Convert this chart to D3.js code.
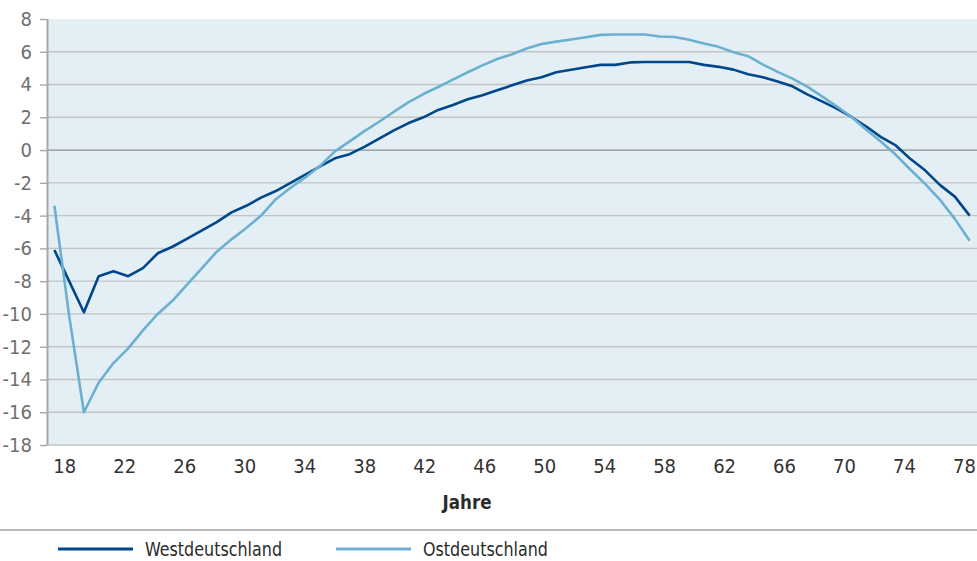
<!DOCTYPE html>
<html>
<head>
<meta charset="utf-8">
<script src="https://cdn.jsdelivr.net/npm/d3@7"></script>
<style>
  body { margin: 0; background: #ffffff; }
  svg text { font-family: "Liberation Sans Narrow", "Arial Narrow", "DejaVu Sans Condensed", sans-serif; }
</style>
</head>
<body>
<svg id="chart" width="977" height="561"></svg>
<script>
// Age categories of the two profiles (one point per year)
const ages = [17, 18, 19, 20, 21, 22, 23, 24, 25, 26, 27, 28, 29, 30, 31, 32, 33, 34, 35, 36,
              37, 38, 39, 40, 41, 42, 43, 44, 45, 46, 47, 48, 49, 50, 51, 52, 53, 54, 55, 56,
              57, 58, 59, 60, 61, 62, 63, 64, 65, 66, 67, 68, 69, 70, 71, 72, 73, 74, 75, 76,
              77, 78, 79];

const west = [-6.1, -8.0, -9.9, -7.7, -7.4, -7.7, -7.2, -6.3, -5.9, -5.4, -4.9, -4.4, -3.8, -3.4,
              -2.9, -2.5, -2.0, -1.5, -1.0, -0.5, -0.25, 0.2, 0.7, 1.2, 1.65, 2.0, 2.45, 2.75, 3.1,
              3.35, 3.65, 3.95, 4.25, 4.45, 4.75, 4.9, 5.05, 5.2, 5.2, 5.35, 5.38, 5.38, 5.38, 5.38,
              5.2, 5.08, 4.91, 4.63, 4.45, 4.18, 3.89, 3.4, 2.97, 2.53, 2.02, 1.44, 0.79, 0.28,
              -0.55, -1.25, -2.14, -2.84, -4.0];

const ost = [-3.4, -10.1, -16.0, -14.2, -13.0, -12.1, -11.0, -10.0, -9.2, -8.2, -7.2, -6.2, -5.45, -4.75,
             -4.0, -3.0, -2.3, -1.67, -0.96, -0.08, 0.53, 1.16, 1.73, 2.34, 2.93, 3.42, 3.85, 4.3, 4.75,
             5.17, 5.56, 5.85, 6.2, 6.47, 6.62, 6.75, 6.89, 7.03, 7.05, 7.05, 7.05, 6.93, 6.9, 6.73,
             6.5, 6.3, 5.97, 5.73, 5.22, 4.77, 4.36, 3.87, 3.28, 2.67, 2.02, 1.24, 0.51, -0.29,
             -1.2, -2.08, -3.04, -4.2, -5.53];

const xTickLabels = [18, 22, 26, 30, 34, 38, 42, 46, 50, 54, 58, 62, 66, 70, 74, 78];
const yTickValues = [8, 6, 4, 2, 0, -2, -4, -6, -8, -10, -12, -14, -16, -18];
const seriesNames = ["Westdeutschland", "Ostdeutschland"];
const seriesColors = ["#00468b", "#6cb0d1"];
const xTitle = "Jahre";

const svg = d3.select("#chart");
const plot = { left: 47, right: 977, top: 19, bottom: 445 };

// Data positions: one slot per age across the plot width
const x = d3.scalePoint().domain(ages).range([plot.left, plot.right]).padding(0.5);
// Label positions along the age axis
const xAxisScale = d3.scaleLinear().domain([18, 78]).range([64.3, 964]);
const y = d3.scaleLinear().domain([-18, 8]).range([plot.bottom, plot.top]);

// Plot background
svg.append("rect")
  .attr("x", plot.left).attr("y", plot.top)
  .attr("width", plot.right - plot.left).attr("height", plot.bottom - plot.top)
  .attr("fill", "#e4eff5");

// Horizontal gridlines
svg.append("g").selectAll("line")
  .data(yTickValues.filter(v => v !== 8))
  .join("line")
  .attr("x1", plot.left).attr("x2", plot.right)
  .attr("y1", d => y(d)).attr("y2", d => y(d))
  .attr("stroke", d => d === 0 ? "#8e8e8e" : "#c3c3c3")
  .attr("stroke-width", 1.4);

// Y axis
const yAxis = svg.append("g")
  .attr("transform", `translate(${plot.left},0)`)
  .call(d3.axisLeft(y).tickValues(yTickValues).tickSize(7).tickPadding(8)
        .tickFormat(d => String(d)));
yAxis.select(".domain").attr("stroke", "#a8a8a8").attr("stroke-width", 2)
  .attr("d", `M0.5,${plot.top}V${plot.bottom}`);
yAxis.selectAll(".tick line").attr("stroke", "#a8a8a8").attr("stroke-width", 1.4);
yAxis.selectAll(".tick text")
  .attr("fill", "#6f6f6f").style("font-size", "20px");

// X axis labels
const xAxis = svg.append("g")
  .attr("transform", `translate(0,${plot.bottom})`)
  .call(d3.axisBottom(xAxisScale).tickValues(xTickLabels).tickSize(0).tickPadding(0)
        .tickFormat(d => String(d)));
xAxis.select(".domain").remove();
xAxis.selectAll(".tick text")
  .attr("y", 28).attr("dy", 0)
  .attr("fill", "#333333").style("font-size", "20px");

// Axis title
svg.append("text")
  .attr("x", 467).attr("y", 509)
  .attr("text-anchor", "middle")
  .attr("fill", "#2b2b2b")
  .style("font-size", "20px").style("font-weight", "bold")
  .attr("textLength", 49).attr("lengthAdjust", "spacingAndGlyphs")
  .text(xTitle);

// Lines
const line = d3.line()
  .x((d, i) => x(ages[i]))
  .y(d => y(d));

[west, ost].forEach((series, i) => {
  svg.append("path")
    .datum(series)
    .attr("fill", "none")
    .attr("stroke", seriesColors[i])
    .attr("stroke-width", 2.6)
    .attr("stroke-linejoin", "round")
    .attr("d", line);
});

// Legend separator
svg.append("line")
  .attr("x1", 0).attr("x2", 977).attr("y1", 530).attr("y2", 530)
  .attr("stroke", "#b8b8b8").attr("stroke-width", 2);

// Legend
const legendX = [58, 336];
const legendTextWidth = [137, 125];
const legend = svg.append("g").selectAll("g")
  .data(seriesNames)
  .join("g")
  .attr("transform", (d, i) => `translate(${legendX[i]},549)`);
legend.append("line")
  .attr("x1", 0).attr("x2", 75).attr("y1", 0).attr("y2", 0)
  .attr("stroke", (d, i) => seriesColors[i]).attr("stroke-width", 3);
legend.append("text")
  .attr("x", 87).attr("y", 7)
  .attr("fill", "#2b2b2b")
  .style("font-size", "20px")
  .attr("textLength", (d, i) => legendTextWidth[i])
  .attr("lengthAdjust", "spacingAndGlyphs")
  .text(d => d);
</script>
</body>
</html>
